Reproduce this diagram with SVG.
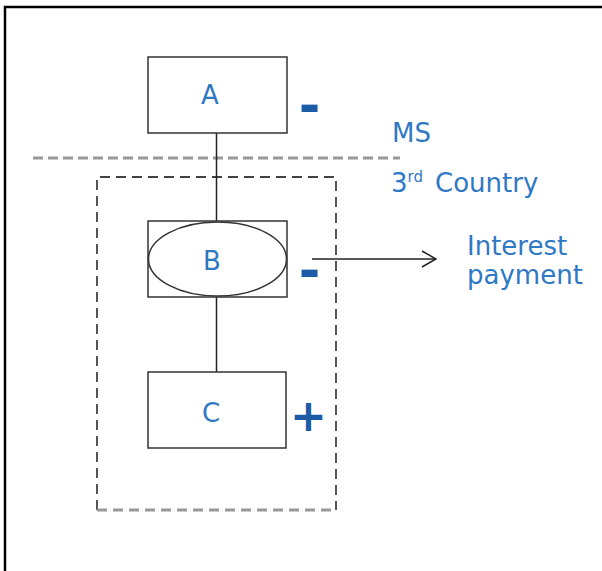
<svg xmlns="http://www.w3.org/2000/svg" width="602" height="571" viewBox="0 0 602 571">
<defs>
<style>
.lbl{font-family:"DejaVu Sans","Liberation Sans",sans-serif;font-size:26px;fill:#2F78C4}
.sign{font-family:"DejaVu Sans","Liberation Sans",sans-serif;font-weight:bold;fill:#1C5BA6;text-anchor:middle}
.box{fill:#fff;stroke:#333;stroke-width:1.5}
.conn{stroke:#222;stroke-width:1.5;fill:none}
</style>
<marker id="open" viewBox="0 0 16 18" refX="15" refY="9" markerWidth="16" markerHeight="18" markerUnits="userSpaceOnUse" orient="auto">
<path d="M1,1 L15,9 L1,17" fill="none" stroke="#222" stroke-width="1.5"/>
</marker>
</defs>
<rect width="602" height="571" fill="#fff"/>
<path d="M5,571 V7 H602" fill="none" stroke="#000" stroke-width="2.5"/>
<g id="borderline">
<line x1="33" y1="158" x2="400" y2="158" stroke="#999" stroke-width="3" stroke-dasharray="10 5"/>
<text class="lbl" x="392" y="142">MS</text>
<text class="lbl" x="391" y="192">3<tspan font-size="15" dy="-10">rd</tspan><tspan x="435" dy="10">Country</tspan></text>
</g>
<g id="frame">
<path d="M97,510 V177 H336 V510" fill="none" stroke="#444" stroke-width="1.8" stroke-dasharray="10 6"/>
<path d="M97,510 H336" fill="none" stroke="#999" stroke-width="3" stroke-dasharray="10 6"/>
</g>
<g id="connectors">
<line class="conn" x1="216.5" y1="133" x2="216.5" y2="221"/>
<line class="conn" x1="216.5" y1="297" x2="216.5" y2="372"/>
<line class="conn" x1="312" y1="259" x2="436" y2="259" marker-end="url(#open)"/>
</g>
<g id="nodeA">
<rect class="box" x="148" y="57" width="139" height="76"/>
<text class="lbl" x="210" y="103.5" text-anchor="middle">A</text>
<text class="sign" x="309.5" y="123" font-size="52">-</text>
</g>
<g id="nodeB">
<rect class="box" x="148" y="221" width="139" height="76"/>
<ellipse cx="217.5" cy="259" rx="69" ry="37" fill="#fff" stroke="#333" stroke-width="1.5"/>
<text class="lbl" x="212" y="270" text-anchor="middle">B</text>
<text class="sign" x="309.5" y="288" font-size="52">-</text>
</g>
<g id="nodeC">
<rect class="box" x="148" y="372" width="138" height="76"/>
<text class="lbl" x="211" y="421.5" text-anchor="middle">C</text>
<text class="sign" x="308.5" y="431" font-size="44">+</text>
</g>
<g id="interest">
<text class="lbl" x="467" y="255">Interest</text>
<text class="lbl" x="467" y="284">payment</text>
</g>
</svg>
